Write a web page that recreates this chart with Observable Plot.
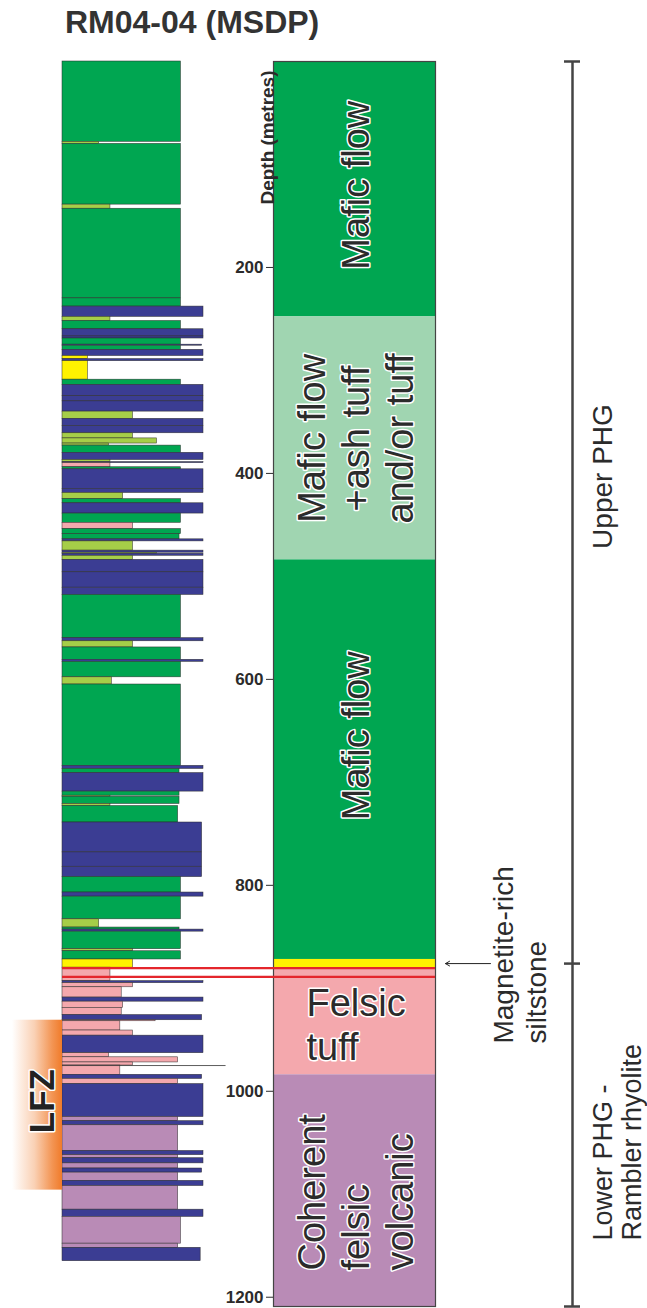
<!DOCTYPE html>
<html><head><meta charset="utf-8">
<script src="https://cdn.jsdelivr.net/npm/d3@7"></script>
<script src="https://cdn.jsdelivr.net/npm/@observablehq/plot@0.6"></script>
<style>
body{margin:0;background:#fff;font-family:"Liberation Sans",Arial,Helvetica,sans-serif;}
#page{position:relative;width:647px;height:1308px;overflow:hidden;background:#fff;}
#title{position:absolute;left:65px;top:6px;font-size:32px;font-weight:bold;line-height:32px;color:#333;white-space:nowrap;}
#chart{position:absolute;left:0;top:45px;width:647px;height:1263px;}
#chart svg{position:absolute;left:0;top:0;}
</style></head>
<body><div id="page"><div id="title">RM04-04 (MSDP)</div><div id="chart"></div></div>
<script>
// ---------------- data ----------------
const depthTicks = [200, 400, 600, 800, 1000, 1200];
const totalDepth = 1209;

// detailed log: [top (m), base (m), lithology, relative width (0-100)]
// M mafic flow, T mafic tuff, D dyke, S siltstone, F felsic tuff, V coherent felsic volcanic
const beds = [
  [0,78,"M",84],[78,80,"T",26],[80,139,"M",84],[139,143,"T",34],[143,230,"M",84],[230,238,"M",84],
  [238,248,"D",100],[248,252,"T",34],[252,260,"M",84],[260,267,"D",100],[267,269,"D",100],[269,275,"M",84],
  [275,276,"D",99],[276,280,"M",84],[280,286,"D",100],[286,289,"S",18],[289,291,"D",100],[291,309,"S",18],
  [309,314,"M",84],[314,325,"D",100],[325,330,"D",100],[330,340,"D",100],[340,347,"T",50],[347,354,"D",100],
  [354,361,"D",100],[361,366,"T",50],[366,371,"T",67],[371,373,"T",33],[373,380,"M",84],[380,387,"D",100],
  [387,389,"T",34],[389,390,"D",100],[390,394,"F",34],[394,396,"M",84],[396,415,"D",100],[415,419,"D",100],
  [419,425,"T",43],[425,429,"M",84],[429,439,"D",100],[439,448,"M",84],[448,454,"F",50],[454,459,"M",84],
  [459,464,"M",83],[464,466,"D",100],[466,475,"T",50],[475,477,"D",100],[477,478,"T",67],[478,480,"D",100],
  [480,484,"T",50],[484,496,"D",100],[496,511,"D",100],[511,518,"D",100],[518,560,"M",84],[560,563,"D",100],
  [563,569,"T",50],[569,581,"M",84],[581,583,"D",100],[583,598,"M",84],[598,605,"T",35],[605,684,"M",84],
  [684,687,"D",100],[687,691,"M",83],[691,709,"D",100],[709,713,"M",83],[713,714,"T",34],[714,721,"M",83],
  [721,723,"T",34],[723,739,"M",82],[739,768,"D",99],[768,782,"D",99],[782,792,"D",99],[792,807,"M",84],
  [807,811,"D",100],[811,833,"M",84],[833,841,"T",26],[841,843,"M",83],[843,845,"D",100],[845,862,"M",84],
  [862,864,"T",50],[864,872,"M",84],[872,880,"S",50],[880,893,"F",34],[893,895,"D",100],[895,899,"F",50],
  [899,909,"F",42],[909,913,"D",100],[913,919,"F",43],[919,926,"F",42],[926,931,"D",99],[931,932,"F",66],
  [932,941,"F",41],[941,946,"F",50],[946,963,"D",100],[963,967,"F",33],[967,972,"F",82],[972,975,"F",50],
  [975,984,"F",41],[984,988,"D",99],[988,993,"F",82],[993,1025,"D",100],[1025,1029,"V",82],[1029,1033,"D",100],
  [1033,1058,"V",82],[1058,1062,"D",100],[1062,1065,"V",82],[1065,1070,"D",100],[1070,1075,"V",82],[1075,1079,"D",99],
  [1079,1087,"V",82],[1087,1092,"D",100],[1092,1115,"V",82],[1115,1122,"D",100],[1122,1148,"V",84],[1148,1152,"V",82],
  [1152,1165,"D",98]
];

// simplified units
const units = [
  {top: 0, base: 248, rock: "M", label: "Mafic flow"},
  {top: 248, base: 484, rock: "MT", label: "Mafic flow\n+ash tuff\nand/or tuff"},
  {top: 484, base: 872, rock: "M", label: "Mafic flow"},
  {top: 872, base: 880.5, rock: "S", label: ""},
  {top: 880.5, base: 984, rock: "F", label: "Felsic\ntuff"},
  {top: 984, base: 1209, rock: "V", label: "Coherent\nfelsic\nvolcanic"}
];

const groups = [
  {name: "Upper PHG", top: 0, base: 876},
  {name: "Lower PHG -\nRambler rhyolite", top: 876, base: 1209}
];
const redLines = [880.5, 889];
const markerLines = [975];
const lfzZone = [{name: "LFZ", top: 931, base: 1096}];
const magnetite = [{depth: 876, label: "Magnetite-rich\nsiltstone"}];

// ---------------- styles ----------------
const rockColor = {M: "#00a651", MT: "#a0d5b1", T: "#a6ce48", D: "#3b3d93", S: "#fff200", F: "#f4a8ad", V: "#b98bb6"};
const ink = "#2b2b2b";
const W = 647, H = 1263, MT = 16, MB = 2;
const chart = document.getElementById("chart");

function layer(left, right, marks, xDomain = [0, 1]) {
  const svg = Plot.plot({
    width: W, height: H, marginTop: MT, marginBottom: MB,
    marginLeft: left, marginRight: W - right,
    x: {domain: xDomain, axis: null},
    y: {domain: [0, totalDepth], reverse: true, axis: null},
    color: {type: "identity"},
    style: {fontFamily: "'Liberation Sans', Arial, Helvetica, sans-serif", background: "transparent", color: ink, overflow: "visible"},
    marks
  });
  chart.append(svg);
}

// detailed log column
layer(62, 203, [
  Plot.rect(beds, {x1: 0, x2: d => d[3], y1: d => d[0], y2: d => d[1], fill: d => rockColor[d[2]],
    stroke: "#2b2b2b", strokeOpacity: 0.85, strokeWidth: 0.6}),
  Plot.ruleY(markerLines, {x1: 0, x2: 116, stroke: "#333", strokeWidth: 0.8})
], [0, 100]);

// simplified units column with depth axis
const lab = (i, opts) => Plot.text([units[i]], {
  text: "label", x: 0.5, y: d => (d.top + d.base) / 2, fontSize: 38, lineHeight: 1.16,
  fill: ink, stroke: "white", strokeWidth: 3, paintOrder: "stroke", ...opts
});
layer(273, 435, [
  Plot.rect(units, {x1: 0, x2: 1, y1: "top", y2: "base", fill: d => rockColor[d.rock]}),
  Plot.frame({stroke: "#444", strokeWidth: 1.2}),
  Plot.axisY({ticks: depthTicks, tickFormat: d3.format("d"), tickSize: 7, tickPadding: 3,
    fontSize: 17, fontWeight: "bold", label: null}),
  Plot.text(["Depth (metres)"], {frameAnchor: "top-left", rotate: -90, textAnchor: "end",
    dx: -13, dy: 9, fontSize: 19, fontWeight: "bold"}),
  lab(0, {rotate: -90, dy: -4}),
  lab(1, {rotate: -90}),
  lab(2, {rotate: -90, dy: -24}),
  lab(4, {x: 0, textAnchor: "start", dx: 33, dy: 2}),
  lab(5, {rotate: -90, y: "base", textAnchor: "start", dy: -36})
]);

// red marker lines across both columns
layer(62, 435, [
  Plot.ruleY(redLines, {stroke: "#e4262c", strokeWidth: 2.2})
]);

// LFZ zone
layer(12, 62, [
  () => {
    const defs = d3.create("svg:defs");
    const g = defs.append("linearGradient").attr("id", "lfzGrad")
      .attr("x1", "0").attr("x2", "1").attr("y1", "0").attr("y2", "0");
    [[0, 0], [0.45, 0.35], [0.8, 0.8], [1, 1]].forEach(([o, a]) =>
      g.append("stop").attr("offset", o).attr("stop-color", "#f07b2a").attr("stop-opacity", a));
    return defs.node();
  },
  Plot.rect(lfzZone, {x1: 0, x2: 1, y1: "top", y2: "base", fill: "url(#lfzGrad)"}),
  Plot.text(lfzZone, {x: 0.5, y: d => (d.top + d.base) / 2, text: "name", rotate: -90,
    fontSize: 35, fontWeight: "bold", fill: "#222", stroke: "white", strokeWidth: 3,
    paintOrder: "stroke", dx: 5, dy: -4})
]);

// magnetite siltstone arrow + label
layer(445, 490, [
  Plot.arrow(magnetite, {x1: 1, x2: 0, y1: "depth", y2: "depth", stroke: "#222", strokeWidth: 1, headLength: 7}),
  Plot.text(magnetite, {x: 1, y: "depth", text: "label", rotate: -90, textAnchor: "start", lineAnchor: "top",
    dx: -1, dy: 80, fontSize: 28, lineHeight: 1.18, fill: ink})
]);

// group bracket
const boundaries = [groups[0].top, ...groups.map(g => g.base)];
layer(564, 580, [
  Plot.ruleX([0.5], {y1: 0, y2: totalDepth, stroke: "#444", strokeWidth: 2.5}),
  Plot.ruleY(boundaries, {x1: 0, x2: 1, stroke: "#444", strokeWidth: 2.5}),
  Plot.text([groups[0]], {x: 1, y: d => (d.top + d.base) / 2, text: "name", rotate: -90, lineAnchor: "top",
    dx: 12, dy: -36, fontSize: 28, fill: ink}),
  Plot.text([groups[1]], {x: 1, y: "base", text: "name", rotate: -90, textAnchor: "start", lineAnchor: "top",
    dx: 11, dy: -66, fontSize: 27, lineHeight: 1.08, fill: ink})
]);
</script></body></html>
